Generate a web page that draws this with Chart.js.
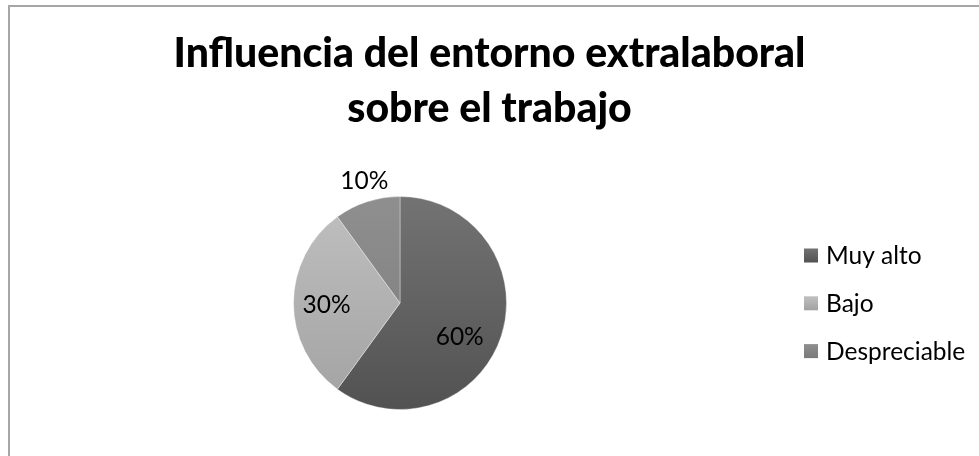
<!DOCTYPE html>
<html lang="es">
<head>
<meta charset="utf-8">
<title>Influencia del entorno extralaboral sobre el trabajo</title>
<script src="https://cdn.jsdelivr.net/npm/chart.js@4.4.1/dist/chart.umd.min.js"></script>
<style>
  html, body { margin: 0; padding: 0; background: #fff; overflow: hidden; }
  #frame { position: absolute; left: 8px; top: 5px; width: 1000px; height: 500px;
           border: 2px solid #a6a6a6; box-sizing: border-box; }
  #wrap { position: absolute; left: 0; top: 0; width: 979px; height: 456px; }
</style>
</head>
<body>
<div id="frame"></div>
<div id="wrap"><canvas id="chart"></canvas></div>
<script>
// Survey result: share of responses per level
const categories = ['Muy alto', 'Bajo', 'Despreciable'];
const shares = [60, 30, 10];
const valueLabels = ['60%', '30%', '10%'];
const titleLines = ['Influencia del entorno extralaboral', 'sobre el trabajo'];

// Grey shading per slice: [top, bottom] of a vertical gradient
const sliceShades = [
  ['#737373', '#525252'],
  ['#c0c0c0', '#a2a2a2'],
  ['#8f8f8f', '#7a7a7a']
];
// Where each percentage sits: fraction of the slice's sweep, fraction of the radius
const labelPlacement = [
  { sweep: 0.55, radius: 0.64 },
  { sweep: 0.49, radius: 0.69 },
  { sweep: 0.55, radius: 1.20 }
];

const FONT = 'Lato, "Open Sans", "DejaVu Sans", sans-serif';

function shade(chart, i, top, bottom) {
  const g = chart.ctx.createLinearGradient(0, top, 0, bottom);
  g.addColorStop(0, sliceShades[i][0]);
  g.addColorStop(1, sliceShades[i][1]);
  return g;
}

// Title, centred across the whole canvas
const titlePlugin = {
  id: 'centredTitle',
  afterDraw(chart) {
    const ctx = chart.ctx;
    ctx.save();
    ctx.fillStyle = '#000';
    ctx.font = '900 41px ' + FONT;
    ctx.textAlign = 'center';
    ctx.textBaseline = 'alphabetic';
    const cx = chart.width / 2;
    ctx.fillText(titleLines[0], cx, 67);
    ctx.fillText(titleLines[1], cx, 122);
    ctx.restore();
  }
};

// Percentage labels on / beside the slices
const valuePlugin = {
  id: 'valueLabels',
  afterDatasetsDraw(chart) {
    const ctx = chart.ctx;
    const meta = chart.getDatasetMeta(0);
    ctx.save();
    ctx.fillStyle = '#000';
    ctx.font = '24.5px ' + FONT;
    ctx.textAlign = 'center';
    ctx.textBaseline = 'middle';
    meta.data.forEach((arc, i) => {
      const p = arc.getProps(['x', 'y', 'startAngle', 'endAngle', 'outerRadius'], true);
      const pl = labelPlacement[i];
      const a = p.startAngle + (p.endAngle - p.startAngle) * pl.sweep;
      const r = p.outerRadius * pl.radius;
      ctx.fillText(valueLabels[i], p.x + Math.cos(a) * r, p.y + Math.sin(a) * r + 1);
    });
    ctx.restore();
  }
};

// Legend column at the right
const legendPlugin = {
  id: 'sideLegend',
  afterDraw(chart) {
    const ctx = chart.ctx;
    const boxX = 804, box = 14, textX = 826, firstY = 255.5, step = 47.8;
    ctx.save();
    ctx.font = '24.5px ' + FONT;
    ctx.textAlign = 'left';
    ctx.textBaseline = 'middle';
    categories.forEach((name, i) => {
      const cy = firstY + i * step;
      ctx.fillStyle = shade(chart, i, cy - box / 2, cy + box / 2);
      ctx.fillRect(boxX, cy - box / 2, box, box);
      ctx.fillStyle = '#000';
      ctx.fillText(name, textX, cy + 1);
    });
    ctx.restore();
  }
};

new Chart(document.getElementById('chart'), {
  type: 'pie',
  data: {
    labels: categories,
    datasets: [{
      data: shares,
      backgroundColor(c) {
        const area = c.chart.chartArea;
        if (!area) return sliceShades[c.dataIndex][0];
        return shade(c.chart, c.dataIndex, area.top, area.bottom);
      },
      borderColor: 'rgba(255,255,255,0.35)',
      borderWidth: 1
    }]
  },
  options: {
    responsive: true,
    maintainAspectRatio: false,
    animation: false,
    layout: { padding: { top: 196, bottom: 46, left: 0, right: 179 } },
    plugins: {
      legend: { display: false },
      title: { display: false },
      tooltip: { enabled: false }
    }
  },
  plugins: [titlePlugin, valuePlugin, legendPlugin]
});
</script>
</body>
</html>
